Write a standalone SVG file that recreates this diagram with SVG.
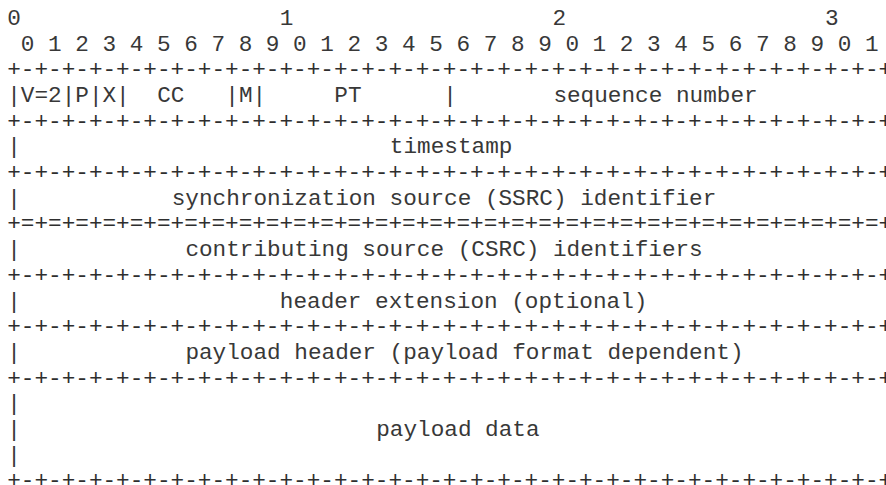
<svg xmlns="http://www.w3.org/2000/svg" width="886" height="485" viewBox="0 0 886 485">
  <style>
    text { font-family: "Liberation Mono", "Courier New", monospace; font-size: 22.7px; fill: #383838; }
    .rule { fill: #2e2e2e; }
  </style>
  <rect width="886" height="485" fill="#ffffff"/>

  <!-- column x = 7.2 + 13.63 * index, row baseline = 23.3 + 25.7 * row -->
  <g transform="translate(0,1.5)">
    <g id="bit-ruler">
      <text x="7.2" y="23.3">0</text>
      <text x="279.8" y="23.3">1</text>
      <text x="552.4" y="23.3">2</text>
      <text x="825" y="23.3">3</text>
      <text x="7.2" y="49" xml:space="preserve"> 0 1 2 3 4 5 6 7 8 9 0 1 2 3 4 5 6 7 8 9 0 1 2 3 4 5 6 7 8 9 0 1</text>
    </g>

    <!-- word boundaries -->
    <g id="separators">
      <text class="rule" x="7.2" y="74.7">+-+-+-+-+-+-+-+-+-+-+-+-+-+-+-+-+-+-+-+-+-+-+-+-+-+-+-+-+-+-+-+-+</text>
      <text class="rule" x="7.2" y="126.1">+-+-+-+-+-+-+-+-+-+-+-+-+-+-+-+-+-+-+-+-+-+-+-+-+-+-+-+-+-+-+-+-+</text>
      <text class="rule" x="7.2" y="177.5">+-+-+-+-+-+-+-+-+-+-+-+-+-+-+-+-+-+-+-+-+-+-+-+-+-+-+-+-+-+-+-+-+</text>
      <text class="rule" x="7.2" y="228.9">+=+=+=+=+=+=+=+=+=+=+=+=+=+=+=+=+=+=+=+=+=+=+=+=+=+=+=+=+=+=+=+=+</text>
      <text class="rule" x="7.2" y="280.3">+-+-+-+-+-+-+-+-+-+-+-+-+-+-+-+-+-+-+-+-+-+-+-+-+-+-+-+-+-+-+-+-+</text>
      <text class="rule" x="7.2" y="331.7">+-+-+-+-+-+-+-+-+-+-+-+-+-+-+-+-+-+-+-+-+-+-+-+-+-+-+-+-+-+-+-+-+</text>
      <text class="rule" x="7.2" y="383.1">+-+-+-+-+-+-+-+-+-+-+-+-+-+-+-+-+-+-+-+-+-+-+-+-+-+-+-+-+-+-+-+-+</text>
      <text class="rule" x="7.2" y="485.9">+-+-+-+-+-+-+-+-+-+-+-+-+-+-+-+-+-+-+-+-+-+-+-+-+-+-+-+-+-+-+-+-+</text>
    </g>

    <!-- first word: V, P, X, CC, M, PT, sequence number -->
    <g id="row-fixed-header">
      <text x="7.2" y="100.4">|V=2|P|X|</text>
      <text x="157.13" y="100.4">CC</text>
      <text x="225.28" y="100.4">|M|</text>
      <text x="334.32" y="100.4">PT</text>
      <text x="443.36" y="100.4">|</text>
      <text x="553.4" y="100.4">sequence number</text>
      <text x="882.5" y="100.4">|</text>
    </g>

    <g id="row-timestamp">
      <text x="7.2" y="151.8">|</text>
      <text x="389.84" y="151.8">timestamp</text>
      <text x="882.5" y="151.8">|</text>
    </g>

    <g id="row-ssrc">
      <text x="7.2" y="203.2">|</text>
      <text x="171.76" y="203.2">synchronization source (SSRC) identifier</text>
      <text x="882.5" y="203.2">|</text>
    </g>

    <g id="row-csrc">
      <text x="7.2" y="254.6">|</text>
      <text x="185.39" y="254.6">contributing source (CSRC) identifiers</text>
      <text x="882.5" y="254.6">|</text>
    </g>

    <g id="row-extension">
      <text x="7.2" y="306">|</text>
      <text x="279.8" y="306">header extension (optional)</text>
      <text x="882.5" y="306">|</text>
    </g>

    <g id="row-payload-header">
      <text x="7.2" y="357.4">|</text>
      <text x="185.39" y="357.4">payload header (payload format dependent)</text>
      <text x="882.5" y="357.4">|</text>
    </g>

    <g id="row-payload-data">
      <text x="7.2" y="408.8">|</text>
      <text x="7.2" y="434.5">|</text>
      <text x="376.21" y="434.5">payload data</text>
      <text x="7.2" y="460.2">|</text>
    </g>
  </g>
</svg>
